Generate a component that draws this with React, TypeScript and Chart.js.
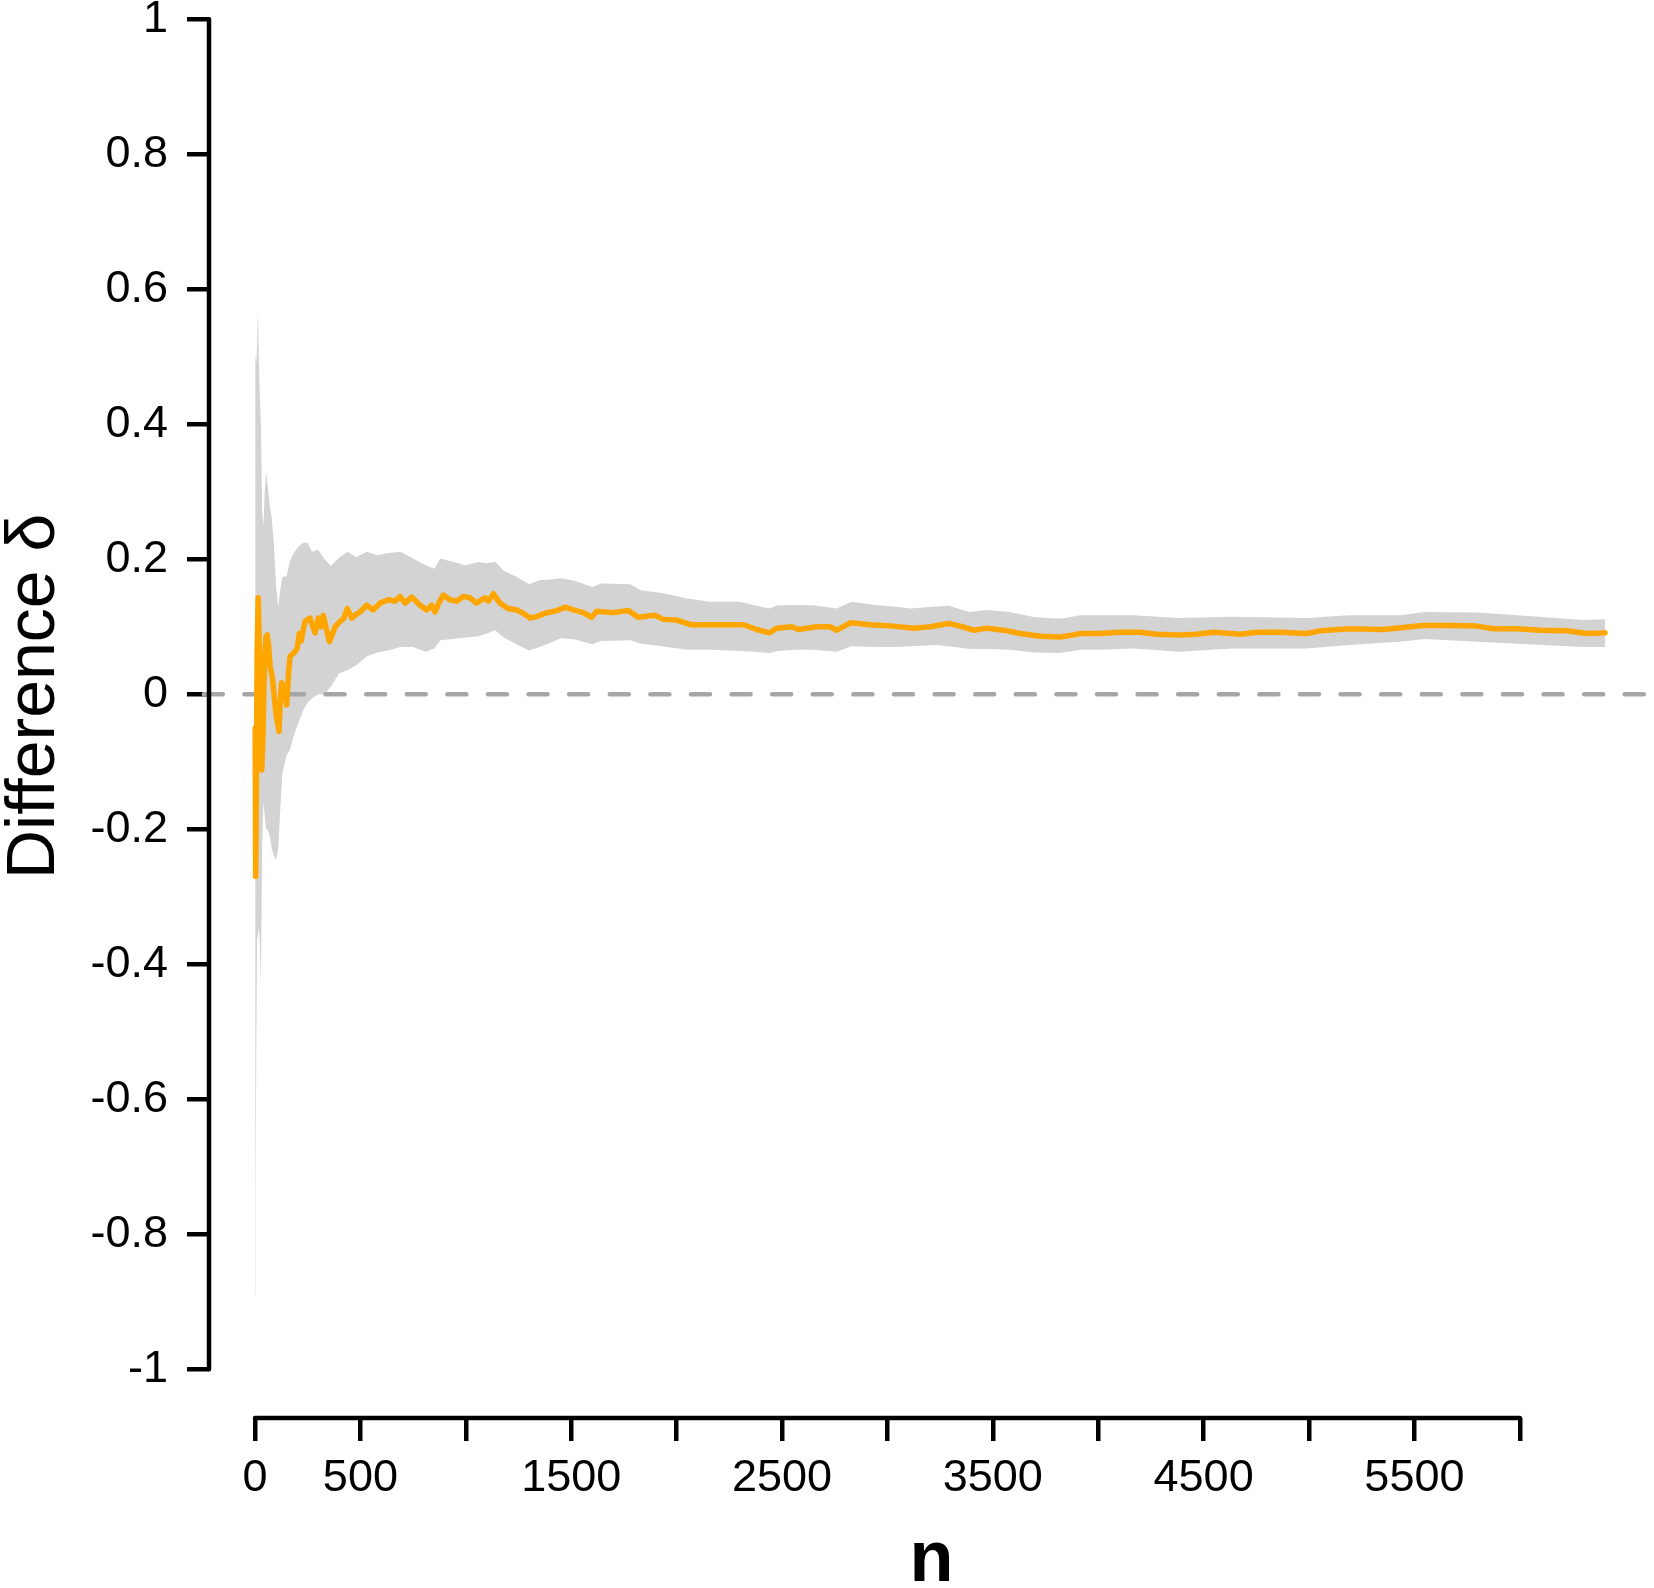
import React, { useEffect, useRef } from "react";
import { Chart, registerables } from "chart.js";

Chart.register(...registerables);

// ---- data ----
const ESTIMATE_N = [
  1, 3, 6, 10, 15, 19, 25, 32, 38, 45,
  52, 58, 65, 72, 80, 87, 100, 114, 120, 126,
  140, 150, 160, 166, 180, 190, 200, 210, 219, 237,
  261, 275, 285, 300, 312, 324, 340, 353, 368, 380,
  403, 420, 438, 459, 478, 498, 530, 561, 593, 633,
  664, 688, 712, 743, 783, 814, 838, 854, 872, 893,
  925, 957, 988, 1020, 1051, 1091, 1107, 1131, 1162, 1202,
  1241, 1273, 1305, 1336, 1376, 1431, 1471, 1511, 1558, 1597,
  1621, 1700, 1771, 1819, 1897, 1937, 2000, 2071, 2158, 2238,
  2317, 2380, 2440, 2475, 2546, 2578, 2665, 2728, 2760, 2826,
  2918, 3029, 3124, 3203, 3290, 3345, 3408, 3472, 3551, 3630,
  3725, 3820, 3883, 3915, 4008, 4104, 4198, 4277, 4388, 4467,
  4547, 4672, 4752, 4861, 4988, 5052, 5194, 5352, 5447, 5543,
  5669, 5796, 5875, 5985, 6096, 6222, 6317, 6404,
];

const ESTIMATE_DELTA = [
  -0.05, -0.27, -0.15, 0.06, 0.143, 0.09, -0.04, -0.112, -0.06, 0.05,
  0.085, 0.088, 0.07, 0.04, 0.03, 0.011, -0.03, -0.055, -0.01, 0.017,
  0.008, -0.016, 0.035, 0.056, 0.06, 0.063, 0.068, 0.09, 0.079, 0.108,
  0.113, 0.1, 0.091, 0.113, 0.1, 0.117, 0.095, 0.078, 0.09, 0.1,
  0.108, 0.112, 0.127, 0.113, 0.118, 0.122, 0.132, 0.125, 0.135, 0.14,
  0.138, 0.145, 0.135, 0.144, 0.132, 0.125, 0.132, 0.122, 0.135, 0.147,
  0.14, 0.138, 0.145, 0.143, 0.135, 0.143, 0.138, 0.149, 0.135, 0.127,
  0.125, 0.12, 0.113, 0.115, 0.12, 0.124, 0.129, 0.125, 0.121, 0.114,
  0.123, 0.121, 0.124, 0.114, 0.117, 0.111, 0.11, 0.103, 0.103, 0.103,
  0.103, 0.096, 0.091, 0.098, 0.1, 0.096, 0.1, 0.1, 0.095, 0.106,
  0.103, 0.101, 0.098, 0.1, 0.105, 0.101, 0.095, 0.098, 0.095, 0.09,
  0.086, 0.085, 0.088, 0.09, 0.09, 0.092, 0.092, 0.089, 0.088, 0.089,
  0.092, 0.089, 0.092, 0.092, 0.09, 0.094, 0.097, 0.096, 0.099, 0.102,
  0.102, 0.101, 0.097, 0.097, 0.095, 0.094, 0.09, 0.091,
];

const BAND_N = [
  1, 3, 6, 10, 14, 18, 22, 28, 34, 40,
  46, 52, 60, 70, 80, 90, 100, 110, 120, 130,
  150, 166, 185, 206, 230, 250, 270, 300, 330, 360,
  400, 440, 480, 530, 580, 630, 690, 750, 810, 850,
  880, 940, 1000, 1060, 1100, 1140, 1180, 1240, 1300, 1350,
  1400, 1450, 1520, 1600, 1640, 1780, 1830, 1930, 2050, 2160,
  2300, 2370, 2440, 2480, 2560, 2650, 2760, 2830, 2950, 3030,
  3110, 3230, 3290, 3390, 3470, 3580, 3700, 3820, 3915, 4010,
  4170, 4380, 4640, 4990, 5190, 5430, 5550, 5800, 5990, 6300,
  6404,
];

const BAND_UPPER = [
  0.8, 0.5, 0.49, 0.52, 0.57, 0.5, 0.45, 0.4, 0.27, 0.25,
  0.3, 0.33, 0.31, 0.28, 0.26, 0.22, 0.16, 0.13, 0.155, 0.174,
  0.175, 0.198, 0.21, 0.219, 0.225, 0.224, 0.211, 0.214, 0.2, 0.19,
  0.203, 0.211, 0.203, 0.211, 0.206, 0.209, 0.211, 0.201, 0.191, 0.186,
  0.201, 0.196, 0.191, 0.196, 0.194, 0.196, 0.183, 0.174, 0.163, 0.169,
  0.17, 0.172, 0.168, 0.159, 0.164, 0.163, 0.154, 0.15, 0.142, 0.137,
  0.137, 0.132, 0.127, 0.132, 0.132, 0.132, 0.127, 0.137, 0.132, 0.13,
  0.127, 0.13, 0.131, 0.122, 0.125, 0.122, 0.114, 0.112, 0.117, 0.117,
  0.117, 0.113, 0.115, 0.113, 0.117, 0.117, 0.122, 0.121, 0.117, 0.11,
  0.111,
];

const BAND_LOWER = [
  -0.89, -0.76, -0.53, -0.36, -0.35, -0.35, -0.36, -0.43, -0.22, -0.16,
  -0.18, -0.2, -0.2, -0.21, -0.23, -0.24, -0.245, -0.23, -0.17, -0.117,
  -0.09, -0.082, -0.06, -0.042, -0.023, -0.012, -0.006, 0.0, 0.0, 0.012,
  0.031, 0.036, 0.043, 0.056, 0.062, 0.065, 0.07, 0.07, 0.063, 0.068,
  0.08, 0.082, 0.084, 0.086, 0.09, 0.095, 0.084, 0.074, 0.065, 0.07,
  0.076, 0.083, 0.081, 0.074, 0.079, 0.08, 0.075, 0.071, 0.066, 0.066,
  0.064, 0.063, 0.061, 0.064, 0.066, 0.066, 0.063, 0.071, 0.07, 0.07,
  0.071, 0.073, 0.071, 0.067, 0.067, 0.066, 0.062, 0.061, 0.066, 0.066,
  0.068, 0.063, 0.068, 0.068, 0.073, 0.078, 0.082, 0.078, 0.075, 0.07,
  0.07,
];

const REFERENCE_N = [-243, 6700];
const REFERENCE_DELTA = [0, 0];

const X_TICK_VALUES = [0, 500, 1000, 1500, 2000, 2500, 3000, 3500, 4000, 4500, 5000, 5500, 6000];
const X_TICK_LABELS = ["0", "500", "", "1500", "", "2500", "", "3500", "", "4500", "", "5500", ""];
const Y_TICK_VALUES = [-1, -0.8, -0.6, -0.4, -0.2, 0, 0.2, 0.4, 0.6, 0.8, 1];
const Y_TICK_LABELS = ["-1", "-0.8", "-0.6", "-0.4", "-0.2", "0", "0.2", "0.4", "0.6", "0.8", "1"];

const X_TITLE = "n";
const Y_TITLE = "Difference \u03b4";

// ---- layout / style ----
const W = 1654;
const H = 1588;
const FONT = '"Liberation Sans", Arial, Helvetica, sans-serif';
const AXIS_LW = 4.5;

const rAxesPlugin = {
  id: "rAxes",
  afterDraw(chart: any) {
    const { ctx, chartArea } = chart;
    const x = chart.scales.x;
    const y = chart.scales.y;
    ctx.save();
    ctx.strokeStyle = "#000";
    ctx.lineWidth = AXIS_LW;
    ctx.lineCap = "round";
    ctx.beginPath();
    ctx.moveTo(chartArea.left, y.getPixelForValue(Y_TICK_VALUES[Y_TICK_VALUES.length - 1]));
    ctx.lineTo(chartArea.left, y.getPixelForValue(Y_TICK_VALUES[0]));
    ctx.moveTo(x.getPixelForValue(X_TICK_VALUES[0]), chartArea.bottom);
    ctx.lineTo(x.getPixelForValue(X_TICK_VALUES[X_TICK_VALUES.length - 1]), chartArea.bottom);
    ctx.stroke();

    const midY =
      (y.getPixelForValue(Y_TICK_VALUES[0]) + y.getPixelForValue(Y_TICK_VALUES[Y_TICK_VALUES.length - 1])) / 2 + 2;
    ctx.translate(54, midY);
    ctx.rotate(-Math.PI / 2);
    ctx.font = `68px ${FONT}`;
    ctx.fillStyle = "#000";
    ctx.textAlign = "center";
    ctx.textBaseline = "alphabetic";
    ctx.fillText(Y_TITLE, 0, 0);
    ctx.restore();
  },
};

export default function App() {
  const canvasRef = useRef<HTMLCanvasElement | null>(null);

  useEffect(() => {
    const canvas = canvasRef.current;
    if (!canvas) return;

    const estimate = ESTIMATE_N.map((n, i) => ({ x: n, y: ESTIMATE_DELTA[i] }));
    const upper = BAND_N.map((n, i) => ({ x: n, y: BAND_UPPER[i] }));
    const lower = BAND_N.map((n, i) => ({ x: n, y: BAND_LOWER[i] }));
    const reference = REFERENCE_N.map((n, i) => ({ x: n, y: REFERENCE_DELTA[i] }));

    const chart = new Chart(canvas, {
      type: "line",
      data: {
        datasets: [
          {
            label: "estimate",
            data: estimate,
            borderColor: "#FFA500",
            borderWidth: 5.5,
            borderJoinStyle: "round",
            borderCapStyle: "round",
            pointRadius: 0,
            fill: false,
            tension: 0,
          },
          {
            label: "zero",
            data: reference,
            borderColor: "#A6A6A6",
            borderWidth: 4.5,
            borderDash: [19, 21.6],
            borderCapStyle: "round",
            pointRadius: 0,
            fill: false,
            clip: { left: 12, top: 0, right: 0, bottom: 0 },
          },
          {
            label: "upper",
            data: upper,
            borderColor: "rgba(0,0,0,0)",
            borderWidth: 1,
            pointRadius: 0,
            fill: false,
          },
          {
            label: "lower",
            data: lower,
            borderColor: "rgba(0,0,0,0)",
            borderWidth: 1,
            backgroundColor: "#D3D3D3",
            pointRadius: 0,
            fill: "-1",
          },
        ],
      } as any,
      options: {
        animation: false,
        responsive: false,
        devicePixelRatio: 1,
        parsing: false as any,
        layout: { padding: 0 },
        plugins: {
          legend: { display: false },
          tooltip: { enabled: false },
          title: { display: false },
        },
        elements: { line: { tension: 0 } },
        scales: {
          x: {
            type: "linear",
            min: -218.2,
            max: 6636.6,
            border: { display: false },
            grid: {
              drawOnChartArea: false,
              drawTicks: true,
              tickLength: 23,
              color: "#000",
              lineWidth: AXIS_LW,
            },
            ticks: {
              autoSkip: false,
              maxRotation: 0,
              minRotation: 0,
              padding: 11,
              color: "#000",
              font: { family: FONT, size: 45 },
              callback: (value: any) => {
                const i = X_TICK_VALUES.indexOf(Number(value));
                return i >= 0 ? X_TICK_LABELS[i] : "";
              },
            },
            title: {
              display: true,
              text: X_TITLE,
              color: "#000",
              font: { family: FONT, size: 72, weight: "bold", lineHeight: 0.7 },
              padding: { top: 0, bottom: 2 },
            },
            afterBuildTicks: (scale: any) => {
              scale.ticks = X_TICK_VALUES.map((v) => ({ value: v }));
            },
            afterFit: (scale: any) => {
              scale.height = H - 1418;
              scale.paddingLeft = 0;
              scale.paddingRight = 0;
            },
          } as any,
          y: {
            type: "linear",
            min: -1.07215,
            max: 1.02859,
            border: { display: false },
            grid: {
              drawOnChartArea: false,
              drawTicks: true,
              tickLength: 22,
              color: "#000",
              lineWidth: AXIS_LW,
            },
            ticks: {
              autoSkip: false,
              padding: 19,
              color: "#000",
              font: { family: FONT, size: 45 },
              callback: (value: any) => {
                const i = Y_TICK_VALUES.findIndex((v) => Math.abs(v - Number(value)) < 1e-9);
                return i >= 0 ? Y_TICK_LABELS[i] : "";
              },
            },
            afterBuildTicks: (scale: any) => {
              scale.ticks = Y_TICK_VALUES.map((v) => ({ value: v }));
            },
            afterFit: (scale: any) => {
              scale.width = 209;
              scale.paddingTop = 0;
              scale.paddingBottom = 0;
            },
          } as any,
        },
      },
      plugins: [rAxesPlugin],
    });

    return () => {
      chart.destroy();
    };
  }, []);

  return (
    <div style={{ position: "absolute", left: 0, top: 0, width: W, height: H, background: "#fff" }}>
      <canvas ref={canvasRef} width={W} height={H} style={{ width: W, height: H, display: "block" }} />
    </div>
  );
}
